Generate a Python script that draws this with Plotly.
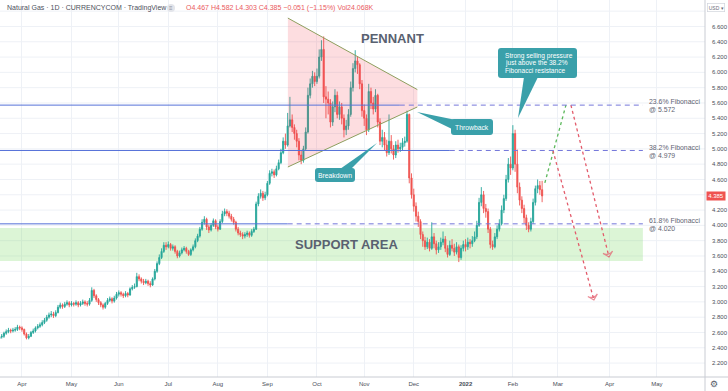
import plotly.graph_objects as go
import pandas as pd

# ---------------- data ----------------
first_day = "2021-03-18"          # first business day shown
first_open = 2.52

closes = [
    2.54, 2.55, 2.59, 2.61, 2.63, 2.62, 2.63, 2.64, 2.67, 2.66,
    2.64, 2.58, 2.53, 2.55, 2.60, 2.62, 2.66, 2.68, 2.70, 2.73, 2.76, 2.80, 2.83, 2.84, 2.82, 2.86, 2.93, 2.96, 2.94, 2.97, 2.99, 2.96,
    2.98, 2.97, 2.99, 2.96, 2.98, 3.00, 2.98, 2.97, 3.02, 3.15, 3.08, 3.03, 2.99, 2.96, 2.93, 2.98, 3.02, 3.04, 3.01, 3.05, 3.10,
    3.12, 3.10, 3.08, 3.11, 3.09, 3.17, 3.19, 3.20, 3.33, 3.30, 3.27, 3.25, 3.27, 3.24, 3.22, 3.30, 3.40, 3.50, 3.58, 3.66, 3.74, 3.72,
    3.75, 3.70, 3.72, 3.66, 3.60, 3.64, 3.68, 3.70, 3.66, 3.62, 3.68, 3.72, 3.80, 3.86, 3.95, 4.04, 4.08, 3.98, 3.94, 4.00, 4.06, 3.98,
    3.95, 4.05, 4.15, 4.18, 4.16, 4.12, 4.08, 4.04, 3.95, 3.90, 3.88, 3.86, 3.88, 3.90, 3.87, 3.92, 3.95, 4.28, 4.38, 4.42, 4.36, 4.40,
    4.55, 4.68, 4.70, 4.66, 4.74, 4.82, 4.95, 5.10, 5.05, 5.30, 5.38, 5.28, 5.20, 5.10, 4.92, 4.85, 5.00, 5.22, 5.70, 5.85, 5.95, 5.88,
    5.95, 6.20, 6.30, 5.68, 5.65, 5.60, 5.35, 5.55, 5.70, 5.45, 5.55, 5.40, 5.25, 5.30, 5.45, 5.80, 6.05, 6.15, 6.10, 5.85, 5.50,
    5.40, 5.25, 5.75, 5.60, 5.52, 5.70, 5.35, 5.10, 5.15, 5.05, 4.95, 5.10, 5.00, 4.92, 5.05, 5.00, 5.02, 5.08, 5.10, 5.45, 4.62, 4.40,
    4.25, 4.12, 4.05, 3.88, 3.80, 3.72, 3.78, 3.70, 3.85, 3.76, 3.68, 3.72, 3.78, 3.82, 3.70, 3.62, 3.74, 3.70, 3.65, 3.72, 3.58, 3.70, 3.75,
    3.72, 3.78, 3.76, 3.80, 3.85, 4.00, 4.30, 4.40, 4.22, 4.18, 3.95, 3.75, 3.72, 3.85, 3.95, 4.02, 4.20, 4.35, 4.60, 4.80, 4.75,
    5.20, 4.80, 4.50, 4.33, 4.22, 4.10, 4.00, 3.95, 4.05, 4.30, 4.48, 4.52, 4.467, 4.385,
]
highs = [
    2.57, 2.58, 2.61, 2.64, 2.66, 2.65, 2.66, 2.67, 2.70, 2.69,
    2.68, 2.65, 2.60, 2.58, 2.62, 2.65, 2.68, 2.71, 2.73, 2.76, 2.79, 2.83, 2.86, 2.88, 2.87, 2.89, 2.96, 2.99, 2.98, 3.00, 3.02, 3.01,
    3.01, 3.00, 3.02, 3.01, 3.01, 3.03, 3.02, 3.01, 3.05, 3.19, 3.17, 3.10, 3.05, 3.01, 2.98, 3.00, 3.05, 3.07, 3.06, 3.08, 3.13,
    3.15, 3.14, 3.12, 3.14, 3.13, 3.19, 3.22, 3.24, 3.38, 3.36, 3.32, 3.30, 3.30, 3.29, 3.27, 3.32, 3.43, 3.53, 3.62, 3.70, 3.78, 3.78,
    3.79, 3.77, 3.75, 3.74, 3.68, 3.67, 3.71, 3.73, 3.72, 3.68, 3.70, 3.75, 3.83, 3.89, 3.98, 4.08, 4.12, 4.10, 4.01, 4.03, 4.09, 4.08,
    4.01, 4.08, 4.19, 4.22, 4.21, 4.19, 4.15, 4.11, 4.06, 3.98, 3.93, 3.91, 3.91, 3.93, 3.92, 3.95, 3.98, 4.31, 4.42, 4.47, 4.45, 4.44,
    4.58, 4.72, 4.74, 4.73, 4.78, 4.86, 5.00, 5.15, 5.20, 5.47, 5.68, 5.45, 5.32, 5.25, 5.14, 4.98, 5.04, 5.28, 5.80, 5.92, 6.02, 6.00,
    6.05, 6.30, 6.42, 6.47, 5.82, 5.75, 5.65, 5.62, 5.78, 5.75, 5.62, 5.60, 5.45, 5.38, 5.52, 5.88, 6.12, 6.29, 6.20, 6.12, 5.90,
    5.58, 5.45, 5.85, 5.80, 5.68, 5.78, 5.72, 5.40, 5.25, 5.22, 5.12, 5.45, 5.18, 5.05, 5.10, 5.12, 5.08, 5.14, 5.16, 5.50, 5.46, 4.68,
    4.48, 4.30, 4.18, 4.08, 3.92, 3.85, 3.84, 3.82, 4.04, 3.90, 3.80, 3.78, 3.84, 3.92, 3.86, 3.74, 3.80, 3.82, 3.76, 3.78, 3.75, 3.74, 3.80,
    3.82, 3.84, 3.82, 3.86, 3.92, 4.06, 4.36, 4.50, 4.45, 4.28, 4.22, 3.98, 3.80, 3.90, 4.00, 4.08, 4.26, 4.40, 4.66, 4.88, 4.90,
    5.31, 5.25, 4.99, 4.56, 4.38, 4.27, 4.14, 4.04, 4.10, 4.35, 4.52, 4.60, 4.58, 4.582,
]
lows = [
    2.50, 2.52, 2.53, 2.57, 2.59, 2.59, 2.60, 2.61, 2.62, 2.63,
    2.61, 2.56, 2.51, 2.51, 2.54, 2.58, 2.60, 2.64, 2.66, 2.68, 2.71, 2.74, 2.78, 2.80, 2.79, 2.80, 2.85, 2.91, 2.91, 2.92, 2.95, 2.93,
    2.94, 2.94, 2.95, 2.93, 2.94, 2.96, 2.95, 2.94, 2.95, 3.00, 3.05, 3.00, 2.96, 2.93, 2.90, 2.91, 2.96, 3.00, 2.98, 2.99, 3.03,
    3.07, 3.07, 3.05, 3.06, 3.06, 3.08, 3.15, 3.17, 3.19, 3.27, 3.24, 3.22, 3.23, 3.21, 3.19, 3.21, 3.28, 3.38, 3.48, 3.56, 3.64, 3.68,
    3.70, 3.67, 3.67, 3.63, 3.57, 3.58, 3.62, 3.66, 3.63, 3.60, 3.60, 3.66, 3.70, 3.78, 3.84, 3.93, 4.01, 3.94, 3.90, 3.92, 3.98, 3.95,
    3.92, 3.94, 4.03, 4.12, 4.12, 4.09, 4.05, 4.01, 3.92, 3.87, 3.85, 3.82, 3.83, 3.85, 3.84, 3.85, 3.90, 3.94, 4.25, 4.35, 4.32, 4.33,
    4.38, 4.53, 4.64, 4.62, 4.64, 4.72, 4.80, 4.93, 5.00, 5.03, 5.28, 5.22, 5.12, 5.02, 4.85, 4.80, 4.82, 4.98, 5.20, 5.66, 5.80, 5.82,
    5.85, 5.92, 6.15, 5.60, 5.40, 5.45, 5.28, 5.30, 5.48, 5.40, 5.38, 5.32, 5.15, 5.18, 5.25, 5.42, 5.75, 6.00, 5.98, 5.78, 5.42,
    5.30, 5.18, 5.22, 5.52, 5.45, 5.48, 5.28, 5.05, 5.02, 4.98, 4.90, 4.92, 4.94, 4.86, 4.88, 4.95, 4.96, 4.98, 5.03, 5.08, 4.55, 4.35,
    4.18, 4.05, 3.98, 3.82, 3.72, 3.68, 3.69, 3.66, 3.68, 3.70, 3.62, 3.64, 3.68, 3.74, 3.65, 3.58, 3.60, 3.66, 3.60, 3.62, 3.52, 3.55, 3.66,
    3.66, 3.68, 3.70, 3.72, 3.78, 3.82, 3.98, 4.25, 4.16, 4.10, 3.90, 3.70, 3.68, 3.70, 3.82, 3.92, 4.00, 4.16, 4.32, 4.56, 4.66,
    4.72, 4.70, 4.42, 4.26, 4.16, 4.03, 3.94, 3.91, 3.92, 4.02, 4.26, 4.42, 4.40, 4.303,
]
assert len(closes) == len(highs) == len(lows), (len(closes), len(highs), len(lows))

month_tick_dates = ["2021-04-01", "2021-05-03", "2021-06-01", "2021-07-01", "2021-08-02", "2021-09-01",
                    "2021-10-01", "2021-11-01", "2021-12-01", "2022-01-03", "2022-02-01", "2022-03-01",
                    "2022-04-01", "2022-05-02"]
month_tick_labels = ["Apr", "May", "Jun", "Jul", "Aug", "Sep", "Oct", "Nov", "Dec", "<b>2022</b>",
                     "Feb", "Mar", "Apr", "May"]
# price-scale labels shown (4.400 is hidden under the last-price tag, 6.800 under the USD button)
price_ticks = [2.2, 2.4, 2.6, 2.8, 3.0, 3.2, 3.4, 3.6, 3.8, 4.0, 4.2, 4.6, 4.8, 5.0,
               5.2, 5.4, 5.6, 5.8, 6.0, 6.2, 6.4, 6.6]
grid_ticks = [2.2, 2.4, 2.6, 2.8, 3.0, 3.2, 3.4, 3.6, 3.8, 4.0, 4.2, 4.4, 4.6, 4.8, 5.0,
              5.2, 5.4, 5.6, 5.8, 6.0, 6.2, 6.4, 6.6, 6.8]

fib_levels = [5.572, 4.979, 4.020]
fib_pcts = ["23.6%", "38.2%", "61.8%"]
support_zone = [3.535, 3.965]

last_o, last_h, last_l, last_c = 4.467, 4.582, 4.303, 4.385
last_change, last_change_pct, last_vol = -0.051, -1.15, "24.068K"

# pennant drawing: left / right dates, (upper, lower) prices at each side
pennant_x = ["2021-09-14 02:00", "2021-12-02 14:00"]
pennant_upper = [6.71, 5.775]
pennant_lower = [4.763, 5.548]

# projected scenario paths
green_x = ["2022-02-21 05:00", "2022-03-04 14:00"]
green_y = [4.555, 5.572]
red_a_x = ["2022-03-08 19:00", "2022-03-31 17:00"]
red_a_y = [5.572, 3.587]
red_b_x = ["2022-02-24 19:00", "2022-03-23 00:00"]
red_b_y = [4.979, 3.025]

# ---------------- layout constants ----------------
W, H = 728, 391
ML, MR, MT, MB = 0, 23, 0, 14
PW, PH = W - ML - MR, H - MT - MB
x_start, x_end = "2021-03-18 06:00", "2022-05-31 08:00"
y_lo, y_hi = 2.018, 6.946
fib_solid_end = ["2021-11-22 19:00", "2021-12-23 00:00", "2021-09-14 00:00"]
drawing_end = "2022-04-21 18:00"

UP, DOWN = "#26a69a", "#ef5350"
BLUE_SOLID, BLUE_DASH = "#5571d8", "#7477da"
TEAL = "#3aa0aa"
TXT = "#5a606d"
FONT = "Liberation Sans, Arial, sans-serif"
GRID = "#eef1f6"


def px(x):
    return x / PW


def py(y):
    return 1 - y / PH


dates = pd.bdate_range(first_day, periods=len(closes))
opens = [first_open] + closes[:-1]

fig = go.Figure()

# pennant fill (below candles)
fig.add_trace(go.Scatter(
    x=[pennant_x[0], pennant_x[1], pennant_x[1], pennant_x[0]],
    y=[pennant_upper[0], pennant_upper[1], pennant_lower[1], pennant_lower[0]],
    fill="toself", fillcolor="rgba(242,54,69,0.17)", mode="lines",
    line=dict(width=0, color="rgba(0,0,0,0)"), hoverinfo="skip"))

fig.add_trace(go.Candlestick(
    x=dates, open=opens, high=highs, low=lows, close=closes,
    increasing=dict(line=dict(color=UP, width=0.9), fillcolor=UP),
    decreasing=dict(line=dict(color=DOWN, width=0.9), fillcolor=DOWN),
    whiskerwidth=0, hoverinfo="skip"))

# pennant edges
for ys in (pennant_upper, pennant_lower):
    fig.add_trace(go.Scatter(x=pennant_x, y=ys, mode="lines",
                             line=dict(color="#8e9f5e", width=1), hoverinfo="skip"))

# projection paths
fig.add_trace(go.Scatter(x=green_x, y=green_y, mode="lines",
                         line=dict(color="#5cb85c", width=1.3, dash="3px,3px"), hoverinfo="skip"))
for xs, ys in ((red_a_x, red_a_y), (red_b_x, red_b_y)):
    fig.add_trace(go.Scatter(
        x=xs, y=ys, mode="lines+markers",
        line=dict(color="#e35b6b", width=1.3, dash="3px,3px"),
        marker=dict(symbol=["circle", "arrow-wide-open"], size=[0, 7], angleref="previous",
                    color="#e35b6b", line=dict(color="#e35b6b", width=1.2)),
        hoverinfo="skip"))

shapes = []
# horizontal grid (full set, incl. levels whose labels are hidden)
for g in grid_ticks:
    shapes.append(dict(type="line", xref="paper", yref="y", x0=0, x1=1, y0=g, y1=g,
                       line=dict(color=GRID, width=1), layer="below"))
# support zone
shapes.append(dict(type="rect", xref="x", yref="y", x0=x_start, x1=drawing_end,
                   y0=support_zone[0], y1=support_zone[1], fillcolor="rgba(120,215,95,0.26)",
                   line=dict(width=0), layer="between"))
# fibonacci lines
for lvl, s_end in zip(fib_levels, fib_solid_end):
    shapes.append(dict(type="line", xref="x", yref="y", x0=x_start, x1=s_end, y0=lvl, y1=lvl,
                       line=dict(color=BLUE_SOLID, width=1)))
    shapes.append(dict(type="line", xref="x", yref="y", x0=s_end, x1=drawing_end, y0=lvl, y1=lvl,
                       line=dict(color=BLUE_DASH, width=1, dash="5px,4px")))


def rrect(x0, y0, x1, y1, r):
    return (f"M {px(x0 + r)},{py(y0)} L {px(x1 - r)},{py(y0)} Q {px(x1)},{py(y0)} {px(x1)},{py(y0 + r)} "
            f"L {px(x1)},{py(y1 - r)} Q {px(x1)},{py(y1)} {px(x1 - r)},{py(y1)} "
            f"L {px(x0 + r)},{py(y1)} Q {px(x0)},{py(y1)} {px(x0)},{py(y1 - r)} "
            f"L {px(x0)},{py(y0 + r)} Q {px(x0)},{py(y0)} {px(x0 + r)},{py(y0)} Z")


def tri(a, b, c):
    return f"M {px(a[0])},{py(a[1])} L {px(b[0])},{py(b[1])} L {px(c[0])},{py(c[1])} Z"


callouts = [
    dict(box=(498, 48, 577, 78), tail=((524, 77), (538, 77), (518, 118))),
    dict(box=(451, 119, 493, 135), tail=((456, 120), (452, 129), (417, 112))),
    dict(box=(315, 168, 355, 182), tail=((340, 169), (351, 169), (377, 143))),
]
for c in callouts:
    shapes.append(dict(type="path", xref="paper", yref="paper", path=rrect(*c["box"], 3),
                       fillcolor=TEAL, line=dict(width=0)))
    shapes.append(dict(type="path", xref="paper", yref="paper", path=tri(*c["tail"]),
                       fillcolor=TEAL, line=dict(width=0)))

# axis separators
shapes.append(dict(type="line", xref="paper", yref="paper", x0=0, x1=W / PW, y0=0, y1=0,
                   line=dict(color="#c9ccd3", width=1)))
shapes.append(dict(type="line", xref="paper", yref="paper", x0=1, x1=1, y0=py(H), y1=1,
                   line=dict(color="#c9ccd3", width=1)))
# header icon
shapes.append(dict(type="circle", xref="paper", yref="paper", x0=px(167), x1=px(175),
                   y0=py(12), y1=py(4), fillcolor="#e3e5ea", line=dict(width=0)))

ann = []


def text(x, y, s, size, color=TXT, xanchor="left", bold=False, yref="paper", yshift=0):
    ann.append(dict(x=px(x), y=y if yref == "y" else py(y), xref="paper", yref=yref, text=s,
                    showarrow=False, xanchor=xanchor, yanchor="middle", yshift=yshift,
                    font=dict(size=size, color=color, family=FONT,
                              weight="bold" if bold else "normal")))


text(5, 8, "Natural Gas · 1D · CURRENCYCOM · TradingView", 7, "#4c505b")
text(171, 8, "≡", 6, "#8a8e99", xanchor="center")
sign = "−" if last_change < 0 else "+"
text(184, 8, f"O{last_o:.3f} H{last_h:.3f} L{last_l:.3f} C{last_c:.3f} "
             f"{sign}{abs(last_change):.3f} ({sign}{abs(last_change_pct):.2f}%) Vol{last_vol}", 7, "#ea5a5e")

text(392, 38, "PENNANT", 13, "#596170", xanchor="center", bold=True)
text(346, 244, "SUPPORT AREA", 13, "#596170", xanchor="center", bold=True)

for i, s in enumerate(["Strong selling pressure", "just above the 38.2%", "Fibonacci resistance"]):
    text(503, 56 + 7 * i, s, 6.6, "white")
text(472, 127, "Throwback", 6.8, "white", xanchor="center")
text(335, 175, "Breakdown", 6.8, "white", xanchor="center")

for lvl, pct in zip(fib_levels, fib_pcts):
    text(647, lvl, f"{pct} Fibonacci", 6.9, "#5f6472", yref="y", yshift=3.3)
    text(647, lvl, f"@ {lvl:.3f}", 6.9, "#5f6472", yref="y", yshift=-4.7)

# price-axis widgets
ann.append(dict(x=px(716), y=py(7.5), xref="paper", yref="paper", text="USD ▾", showarrow=False,
                xanchor="center", yanchor="middle", font=dict(size=5, color="#6a6d78", family=FONT),
                bordercolor="#d1d4dc", borderwidth=0.7, borderpad=1, bgcolor="white"))
ann.append(dict(x=px(716), y=last_c, xref="paper", yref="y", text=f"{last_c:.3f}", showarrow=False,
                xanchor="center", yanchor="middle", font=dict(size=6, color="white", family=FONT),
                bgcolor="#ef5350", borderpad=1.2))
ann.append(dict(x=px(714), y=py(384), xref="paper", yref="paper", text="⚙", showarrow=False,
                xanchor="center", yanchor="middle", font=dict(size=9, color="#555a66",
                                                              family="DejaVu Sans")))

fig.update_layout(
    width=W, height=H, margin=dict(l=ML, r=MR, t=MT, b=MB),
    paper_bgcolor="white", plot_bgcolor="white", showlegend=False, hovermode=False,
    shapes=shapes, annotations=ann,
    xaxis=dict(type="date", range=[x_start, x_end], rangeslider=dict(visible=False),
               rangebreaks=[dict(bounds=["sat", "mon"])],
               tickmode="array", tickvals=month_tick_dates, ticktext=month_tick_labels,
               showgrid=True, gridcolor=GRID, gridwidth=1, zeroline=False,
               showline=False, ticks="", ticklabelstandoff=2,
               tickfont=dict(size=6, color="#4a4e58", family=FONT)),
    yaxis=dict(side="right", range=[y_lo, y_hi], tickmode="array", tickvals=price_ticks,
               ticktext=[f"{t:.3f}" for t in price_ticks],
               showgrid=False, zeroline=False,
               showline=False, ticks="", ticklabelstandoff=6,
               tickfont=dict(size=6, color="#4a4e58", family=FONT)),
)

fig.write_html("out.html")
